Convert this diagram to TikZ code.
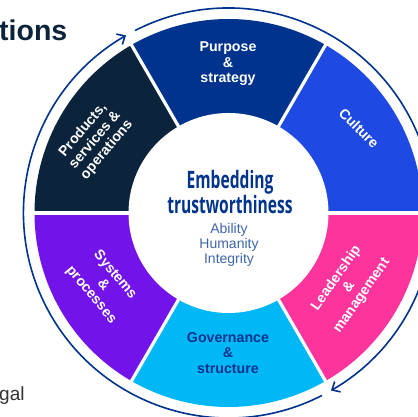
\documentclass[tikz,border=0pt]{standalone}
\usepackage{fontspec}
\setmainfont{Liberation Sans}
\newfontfamily\headfont[FakeStretch=0.65]{Open Sans}
\usetikzlibrary{arrows.meta}
\definecolor{cpurpose}{HTML}{00338D}
\definecolor{cculture}{HTML}{1E49E2}
\definecolor{cleader}{HTML}{FD349C}
\definecolor{cgov}{HTML}{00B8F5}
\definecolor{csys}{HTML}{7213EA}
\definecolor{cprod}{HTML}{0C233C}
\tikzset{
  x=1pt,y=1pt,
  seclabel/.style={font=\bfseries\fontsize{14.2}{15.5}\selectfont,align=center,text=white,inner sep=0pt},
  ringarc/.style={draw=cpurpose,line width=1.6pt,line cap=round},
  gapline/.style={draw=white,line width=3.2pt},
  ringtip/.style={-{Straight Barb[length=6.5pt,width=12pt,line width=1.6pt]}}
}
\newcommand{\sector}[3]{\fill[#1] (228.5,204) ++(#2:194) arc[start angle=#2,end angle=#3,radius=194] -- (228.5,204) -- cycle;}
\begin{document}
\begin{tikzpicture}
\useasboundingbox (0,0) rectangle (418,417);
\clip (0,0) rectangle (418,417);
\fill[white] (0,0) rectangle (418,417);
\sector{cpurpose}{60}{120}
\sector{cculture}{0}{60}
\sector{cleader}{-60}{0}
\sector{cgov}{-120}{-60}
\sector{csys}{-180}{-120}
\sector{cprod}{120}{180}
\coordinate (c) at (228.5,204);
\foreach \a in {0,60,120,180,240,300}{\draw[gapline] (c) -- ++(\a:200);}
\fill[white] (c) circle[radius=100];
\draw[ringarc,ringtip] (c) ++(117:205) arc[start angle=117,end angle=-60,radius=205];
\draw[ringarc,ringtip] (c) ++(-63:205) arc[start angle=-63,end angle=-240,radius=205];
\node[seclabel] (purpose) at (228,353) {Purpose\\\&\\strategy};
\node[seclabel,rotate=-45] (culture) at (359,289) {Culture};
\node[seclabel,rotate=55] (leader) at (349,130) {Leadership\\\&\\management};
\node[seclabel,text=cpurpose] (gov) at (228,64) {Governance\\\&\\structure};
\node[seclabel,rotate=-50] (sys) at (103,132) {Systems\\\&\\processes};
\node[seclabel,rotate=50] (prod) at (95,277) {Products,\\services \&\\operations};
\node[font=\headfont\bfseries\fontsize{24}{24.5}\selectfont,text=cpurpose,align=center,inner sep=0pt] (head) at (230,225) {Embedding\\trustworthiness};
\node[font=\fontsize{14}{15}\selectfont,text=cpurpose!75,align=center,inner sep=0pt] (traits) at (229,172) {Ability\\Humanity\\Integrity};
\node[font=\bfseries\fontsize{28.5}{30}\selectfont,text=cprod,anchor=base west,inner sep=0pt] (title) at (-1,376) {tions};
\node[font=\fontsize{19}{20}\selectfont,text=black!80,anchor=base west,inner sep=0pt] (legal) at (-1,16) {gal};
\end{tikzpicture}
\end{document}
